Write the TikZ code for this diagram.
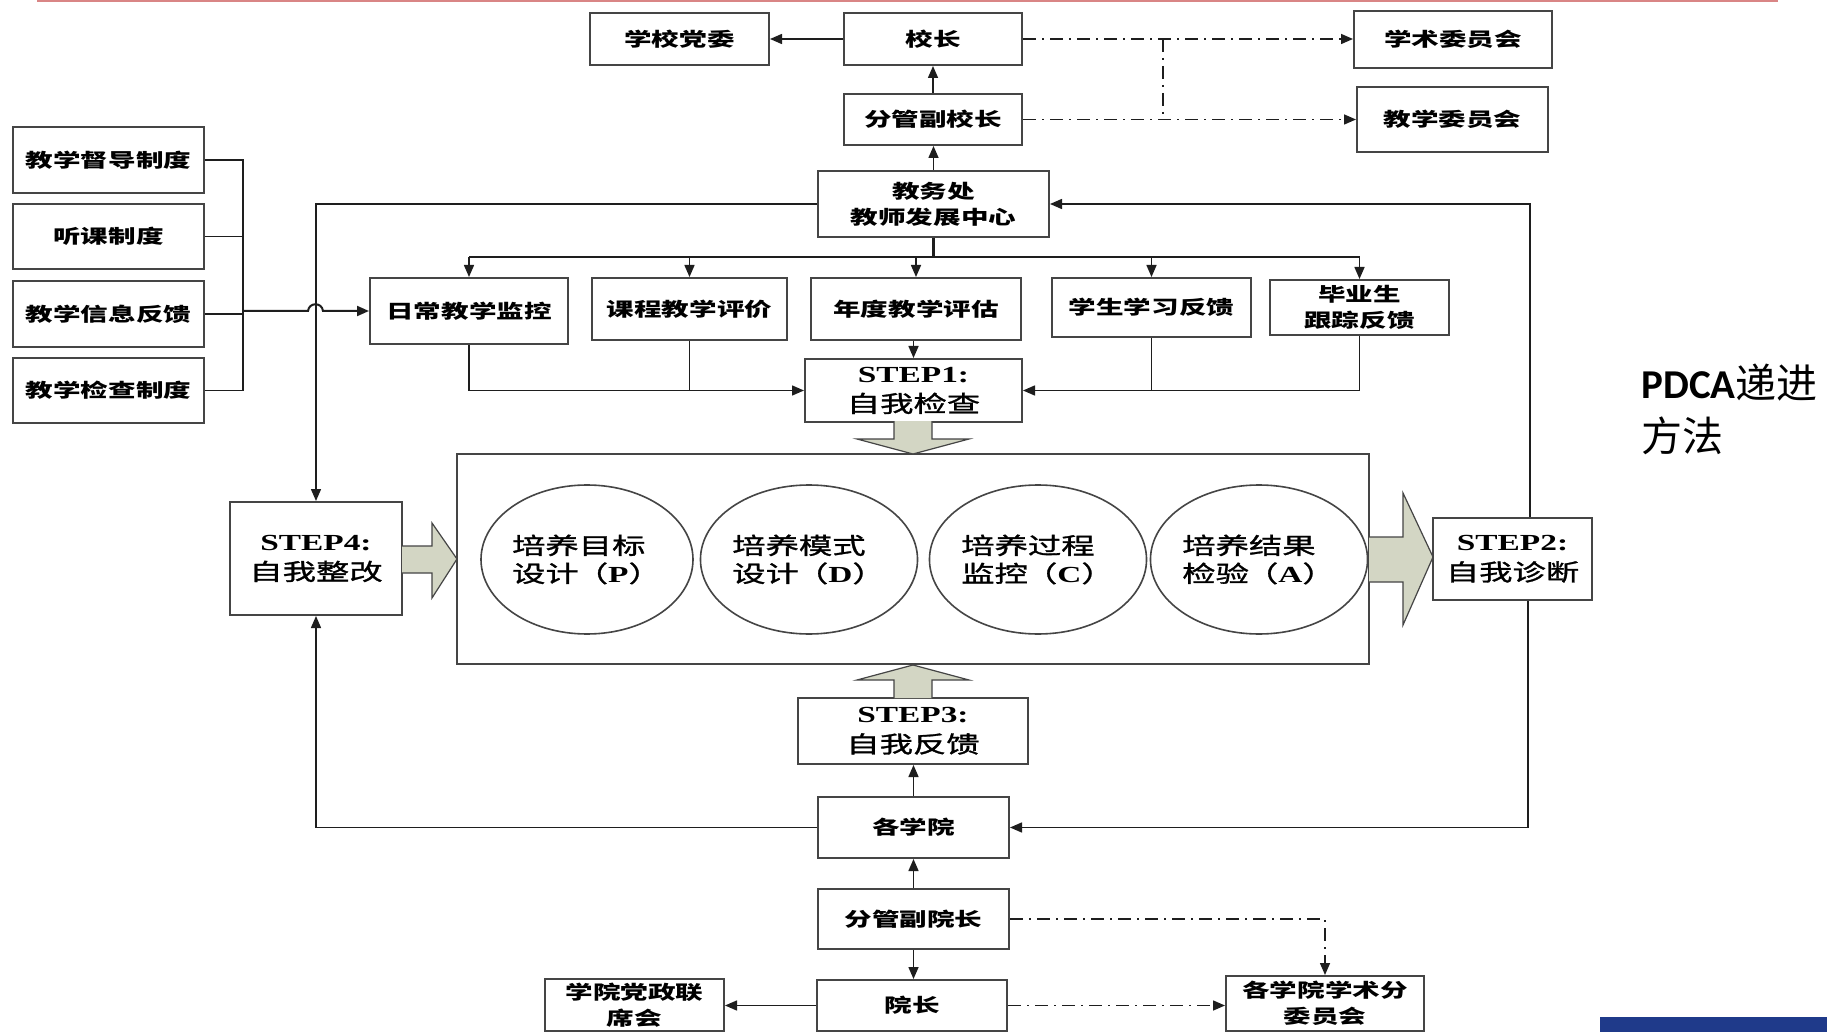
\documentclass[tikz,border=0pt]{standalone}
\usepackage{fontspec}
\usetikzlibrary{arrows.meta,shapes.geometric}
\newfontfamily\cjklab[FakeStretch=1.45]{Noto Sans CJK SC}
\newfontfamily\cjkmid[FakeStretch=1.45,FakeBold=1.3]{Noto Sans CJK SC}
\newfontfamily\tnrs[FakeStretch=1.45]{Liberation Serif}
\newfontfamily\cjkplain{Noto Sans CJK SC}
\newfontfamily\carl{Carlito}
\definecolor{boxc}{HTML}{454545}
\definecolor{linec}{HTML}{1E1E1E}
\definecolor{arrfill}{HTML}{D3D6C4}
\definecolor{topred}{HTML}{D98585}
\definecolor{barblue}{HTML}{1F3A8A}
\begin{document}
\begin{tikzpicture}[x=0.5pt,y=-0.5pt,
  lab/.style={draw=boxc,line width=1pt,fill=white,inner sep=0pt,align=center,font=\cjklab\bfseries\fontsize{9.5}{13}\selectfont},
  stepbox/.style={draw=boxc,line width=1pt,fill=white,inner sep=0pt,align=center,font=\fontsize{11.5}{15}\selectfont},
  ell/.style={ellipse,draw=boxc,line width=0.8pt,fill=white,inner sep=0pt,minimum width=106pt,minimum height=74.5pt,align=left,font=\cjkmid\fontsize{11.5}{14}\selectfont},
  conn/.style={draw=linec,line width=0.75pt},
  arr/.style={conn,-{Triangle[length=6pt,width=5pt]}},
  dd/.style={conn,dash pattern=on 6.5pt off 3pt on 1pt off 3pt},
  fat/.style={draw=boxc,line width=0.6pt,fill=arrfill,line join=miter}
]
\fill[white] (0,0) rectangle (1827,1032);
\useasboundingbox (0,0) rectangle (1827,1032);
\draw[topred,line width=1pt] (37,1) -- (1778,1);
\fill[barblue] (1600,1017) rectangle (1827,1032);

% top part
\node[lab,minimum width=89.5pt,minimum height=26pt] (dangwei) at (679.5,39) {学校党委};
\node[lab,minimum width=89pt,minimum height=26pt] (xiaozhang) at (933,39) {校长};
\node[lab,minimum width=89pt,minimum height=25.5pt] (fxz) at (933,119.5) {分管副校长};
\node[lab,minimum width=99pt,minimum height=28.5pt] (xueshu) at (1453,39.5) {学术委员会};
\node[lab,minimum width=95.5pt,minimum height=32.5pt] (jxwy) at (1452.5,119.5) {教学委员会};
\node[lab,minimum width=115.5pt,minimum height=33pt] (jwc) at (933.5,204) {教务处\\教师发展中心};

% left systems
\node[lab,minimum width=95.5pt,minimum height=33pt] (zd1) at (108.5,160) {教学督导制度};
\node[lab,minimum width=95.5pt,minimum height=32.5pt] (zd2) at (108.5,236.5) {听课制度};
\node[lab,minimum width=95.5pt,minimum height=33pt] (zd3) at (108.5,314) {教学信息反馈};
\node[lab,minimum width=95.5pt,minimum height=32.5pt] (zd4) at (108.5,390.5) {教学检查制度};

% monitoring row
\node[lab,minimum width=99pt,minimum height=33pt] (richang) at (469,311) {日常教学监控};
\node[lab,minimum width=97.5pt,minimum height=31pt] (kecheng) at (689.5,309) {课程教学评价};
\node[lab,minimum width=105pt,minimum height=31pt] (niandu) at (916,309) {年度教学评估};
\node[lab,minimum width=99.5pt,minimum height=29.5pt] (xuesheng) at (1151.5,307.5) {学生学习反馈};
\node[lab,minimum width=89.5pt,minimum height=27.5pt] (biye) at (1359.5,307.5) {毕业生\\跟踪反馈};

\node[stepbox,minimum width=108.5pt,minimum height=31.5pt] (step1) at (913.5,390.5) {{\tnrs\bfseries STEP1:}\\{\cjkmid 自我检查}};

% central frame
\node[draw=boxc,line width=1pt,minimum width=456pt,minimum height=105pt,inner sep=0pt] (bigrect) at (913,559) {};
\node[ell] (c1) at (587,559.5) {培养目标\\设计\hspace{-2pt}（{\tnrs\bfseries P}）};
\node[ell] (c2) at (809,559.5) {培养模式\\设计\hspace{-2pt}（{\tnrs\bfseries D}）};
\node[ell] (c3) at (1038,559.5) {培养过程\\监控\hspace{-2pt}（{\tnrs\bfseries C}）};
\node[ell] (c4) at (1259,559.5) {培养结果\\检验\hspace{-2pt}（{\tnrs\bfseries A}）};

\node[stepbox,minimum width=86pt,minimum height=56.5pt] (step4) at (316,558.5) {{\tnrs\bfseries STEP4:}\\{\cjkmid 自我整改}};
\node[stepbox,minimum width=79.5pt,minimum height=41pt] (step2) at (1512.5,559) {{\tnrs\bfseries STEP2:}\\{\cjkmid 自我诊断}};
\node[stepbox,minimum width=115pt,minimum height=33pt] (step3) at (913,731) {{\tnrs\bfseries STEP3:}\\{\cjkmid 自我反馈}};

% bottom part
\node[lab,minimum width=95.5pt,minimum height=30.5pt] (gxy) at (913.5,827.5) {各学院};
\node[lab,minimum width=95.5pt,minimum height=30pt] (fyz) at (913.5,919) {分管副院长};
\node[lab,minimum width=95pt,minimum height=25.5pt] (yz) at (912,1005.5) {院长};
\node[lab,minimum width=89.5pt,minimum height=26pt] (dzlx) at (634.5,1005) {学院党政联\\席会};
\node[lab,minimum width=99pt,minimum height=27.5pt] (fenwei) at (1325,1003.5) {各学院学术分\\委员会};

% side text
\node[anchor=west,inner sep=0pt,align=left,font=\fontsize{20.5}{26.5}\selectfont] (pdca) at (1641,409) {{\carl\bfseries PDCA}{\cjkplain 递进}\\{\cjkplain 方法}};

% coordinates
\coordinate (vd1) at (1163,39);
\coordinate (vd2) at (1163,119.5);
\coordinate (bus) at (933.5,257);
\coordinate (b1) at (243,160);
\coordinate (b4) at (243,390.5);
\coordinate (bj) at (243,311);
\coordinate (h1) at (308,311);
\coordinate (h2) at (323,311);

% top connectors
\draw[arr] (jwc.north) -- (jwc.north |- fxz.south);
\draw[arr] (fxz.north) -- (xiaozhang.south);
\draw[arr] (xiaozhang.west) -- (dangwei.east);
\draw[dd,arr] (xiaozhang.east) -- (xiaozhang.east -| xueshu.west);
\draw[dd,arr] (fxz.east) -- (fxz.east -| jxwy.west);
\draw[dd] (vd1) -- (vd2);

% distribution bus
\draw[conn,line width=1.3pt] (jwc.south) -- (bus);
\draw[conn,line width=1.1pt] (richang.north |- bus) -- (biye.north |- bus);
\draw[arr] (richang.north |- bus) -- (richang.north);
\draw[arr] (kecheng.north |- bus) -- (kecheng.north);
\draw[arr] (niandu.north |- bus) -- (niandu.north);
\draw[arr] (xuesheng.north |- bus) -- (xuesheng.north);
\draw[arr] (biye.north |- bus) -- (biye.north);

% left bracket
\draw[conn] (zd1.east) -- (b1) -- (b4) -- (zd4.east);
\draw[conn] (zd2.east) -- (zd2.east -| b1);
\draw[conn] (zd3.east) -- (zd3.east -| b1);
\draw[arr,line width=1pt] (bj) -- (h1) .. controls (309,302) and (322,302) .. (h2) -- (richang.west);

% to step1
\draw[arr] (richang.south) |- (step1.west);
\draw[conn] (kecheng.south) -- (kecheng.south |- step1.west);
\draw[arr] (biye.south) |- (step1.east);
\draw[conn] (xuesheng.south) -- (xuesheng.south |- step1.east);
\draw[arr] (step1.north |- niandu.south) -- (step1.north);

% loops
\draw[arr] (jwc.west) -| (step4.north);
\draw[arr] ([xshift=8.75pt]step2.north) |- (jwc.east);
\draw[arr] ([xshift=7.75pt]step2.south) |- (gxy.east);
\draw[arr] (gxy.west) -| (step4.south);

% bottom connectors
\draw[arr] (gxy.north) -- (gxy.north |- step3.south);
\draw[arr] (fyz.north) -- (gxy.south);
\draw[arr] (fyz.south) -- (fyz.south |- yz.north);
\draw[arr] (yz.west) -- (yz.west -| dzlx.east);
\draw[dd,arr] (yz.east) -- (yz.east -| fenwei.west);
\draw[dd,arr] (fyz.east) -| (fenwei.north);

% block arrows
\draw[fat] (894,421) -- (894,439) -- (857,439) -- (913,454) -- (969,439) -- (932,439) -- (932,421);
\draw[fat] (894,698) -- (894,680) -- (857,680) -- (913,665) -- (969,680) -- (932,680) -- (932,698);
\draw[fat] (402,546) -- (432,546) -- (432,523) -- (457,559) -- (432,598) -- (432,573) -- (402,573);
\draw[fat] (1369,537) -- (1403,537) -- (1403,493) -- (1433,557) -- (1403,625) -- (1403,582) -- (1369,582);
\end{tikzpicture}
\end{document}
